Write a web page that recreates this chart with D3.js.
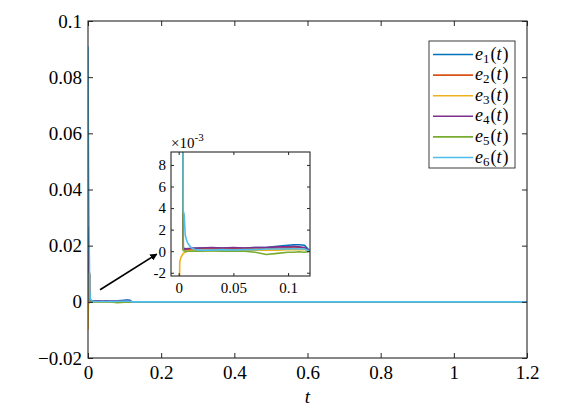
<!DOCTYPE html>
<html>
<head>
<meta charset="utf-8">
<script src="https://cdn.jsdelivr.net/npm/d3@7"></script>
<style>
  html, body { margin: 0; padding: 0; background: #fff; }
  svg { display: block; }
</style>
</head>
<body>
<svg id="chart" width="575" height="413" font-family="Liberation Serif"></svg>
<script>
// ---- data (values of e_i(t) in units of 1e-3) ----
const tValues = [0, 0.001, 0.002, 0.003, 0.004, 0.0042, 0.005, 0.006, 0.007, 0.008, 0.010, 0.012, 0.015, 0.02,
                 0.03, 0.04, 0.05, 0.06, 0.07, 0.08, 0.09, 0.1, 0.105, 0.11, 0.115, 0.12, 0.3, 0.6, 0.9, 1.2];
const e1 = [27, 20, 15, 11, 9.5, 0.3, 0.25, 0.25, 0.2, 0.2, 0.2, 0.25, 0.25, 0.3, 0.3, 0.3, 0.25, 0.3, 0.35, 0.35, 0.45, 0.55, 0.6, 0.6, 0.55, 0, 0, 0, 0, 0];
const e2 = [12, 11.5, 11, 10.5, 10, 0.15, 0.15, 0.15, 0.15, 0.15, 0.15, 0.2, 0.2, 0.25, 0.2, 0.25, 0.2, 0.25, 0.3, 0.25, 0.3, 0.3, 0.35, 0.35, 0.3, 0, 0, 0, 0, 0];
const e3 = [-10, -1.0, -0.6, -0.4, -0.25, -0.2, -0.15, -0.1, -0.05, 0, 0.05, 0.05, 0.05, 0.05, 0.05, 0.05, 0.05, 0.05, 0.1, 0.1, 0.1, 0.15, 0.15, 0.15, 0.15, 0, 0, 0, 0, 0];
const e4 = [18, 15, 13, 11, 10, 0.2, 0.2, 0.2, 0.2, 0.25, 0.25, 0.3, 0.3, 0.3, 0.35, 0.3, 0.35, 0.3, 0.35, 0.35, 0.4, 0.4, 0.45, 0.4, 0.35, 0, 0, 0, 0, 0];
const e5 = [10, 10, 9.8, 9.6, 9.5, 0.05, 0.05, 0, 0, 0, 0, 0, 0, 0, 0.05, 0, 0, 0, -0.1, -0.3, -0.2, -0.1, -0.1, -0.05, -0.1, 0, 0, 0, 0, 0];
const e6 = [91, 60, 40, 25, 12, 3.7, 3.4, 1.5, 1.1, 0.8, 0.5, 0.3, 0.15, 0.1, 0.1, 0.15, 0.1, 0.15, 0.15, 0.2, 0.2, 0.2, 0.25, 0.2, 0.2, 0, 0, 0, 0, 0];
const seriesNames = ["1", "2", "3", "4", "5", "6"];
const seriesValues = [e1, e2, e3, e4, e5, e6];
const colors = ["#0072BD", "#D95319", "#EDB120", "#7E2F8E", "#77AC30", "#4DBEEE"];

const mainXTicks = [0, 0.2, 0.4, 0.6, 0.8, 1, 1.2];
const mainXLabels = ["0", "0.2", "0.4", "0.6", "0.8", "1", "1.2"];
const mainYTicks = [-20, 0, 20, 40, 60, 80, 100];
const mainYLabels = ["\u22120.02", "0", "0.02", "0.04", "0.06", "0.08", "0.1"];
const insetXTicks = [0, 0.05, 0.1];
const insetXLabels = ["0", "0.05", "0.1"];
const insetYTicks = [-2, 0, 2, 4, 6, 8];
const insetYLabels = ["-2", "0", "2", "4", "6", "8"];

const arrowTail = [0.033, 4.3];
const arrowHead = [0.188, 17.0];

// ---- drawing ----
const FONT = "Liberation Serif";
const svg = d3.select("#chart");
svg.append("rect").attr("width", 575).attr("height", 413).attr("fill", "#fff");

const M = { left: 88, right: 527, top: 21, bottom: 358 };
const x = d3.scaleLinear().domain([0, 1.2]).range([M.left, M.right]);
const y = d3.scaleLinear().domain([-20, 100]).range([M.bottom, M.top]);

const I = { left: 171, right: 310, top: 152, bottom: 276 };
const xi = d3.scaleLinear().domain([-0.007, 0.12]).range([I.left, I.right]);
const yi = d3.scaleLinear().domain([-2.3, 9.2]).range([I.bottom, I.top]);

const defs = svg.append("defs");
defs.append("clipPath").attr("id", "clipMain").append("rect")
  .attr("x", M.left).attr("y", M.top).attr("width", M.right - M.left).attr("height", M.bottom - M.top);
defs.append("clipPath").attr("id", "clipInset").append("rect")
  .attr("x", I.left).attr("y", I.top).attr("width", I.right - I.left).attr("height", I.bottom - I.top);
defs.append("marker").attr("id", "arrowhead").attr("viewBox", "0 0 10 10")
  .attr("refX", 9).attr("refY", 5).attr("markerWidth", 4.5).attr("markerHeight", 4.5)
  .attr("markerUnits", "strokeWidth").attr("orient", "auto")
  .append("path").attr("d", "M0,0 L10,5 L0,10 z").attr("fill", "#000");

const axisColor = "#262626";

function drawAxes(g, xs, ys, box, xt, xl, yt, yl, tickLen, fontSize, xGap, yGap) {
  const ax = g.append("g").attr("transform", `translate(0,${box.bottom})`)
    .call(d3.axisBottom(xs).tickValues(xt).tickFormat((d, i) => xl[i]).tickSizeInner(-tickLen).tickSizeOuter(0).tickPadding(xGap));
  const axt = g.append("g").attr("transform", `translate(0,${box.top})`)
    .call(d3.axisTop(xs).tickValues(xt).tickFormat("").tickSizeInner(-tickLen).tickSizeOuter(0));
  const ay = g.append("g").attr("transform", `translate(${box.left},0)`)
    .call(d3.axisLeft(ys).tickValues(yt).tickFormat((d, i) => yl[i]).tickSizeInner(-tickLen).tickSizeOuter(0).tickPadding(yGap));
  const ayr = g.append("g").attr("transform", `translate(${box.right},0)`)
    .call(d3.axisRight(ys).tickValues(yt).tickFormat("").tickSizeInner(-tickLen).tickSizeOuter(0));
  [ax, axt, ay, ayr].forEach(a => {
    a.attr("font-family", FONT).attr("font-size", fontSize);
    a.select(".domain").remove();
    a.selectAll(".tick line").attr("stroke", axisColor).attr("stroke-width", 1);
    a.selectAll(".tick text").attr("font-family", FONT).attr("font-size", fontSize).attr("fill", "#000");
  });
  g.append("rect").attr("x", box.left).attr("y", box.top)
    .attr("width", box.right - box.left).attr("height", box.bottom - box.top)
    .attr("fill", "none").attr("stroke", axisColor).attr("stroke-width", 1.1);
}

// main lines
const gMain = svg.append("g");
const gLines = gMain.append("g").attr("clip-path", "url(#clipMain)");
seriesValues.forEach((vals, k) => {
  const pts = tValues.map((t, i) => ({ t, v: vals[i] }));
  gLines.append("path").datum(pts)
    .attr("fill", "none").attr("stroke", colors[k]).attr("stroke-width", 1.6).attr("stroke-linejoin", "round")
    .attr("d", d3.line().x(d => x(d.t)).y(d => y(d.v)));
});
drawAxes(gMain, x, y, M, mainXTicks, mainXLabels, mainYTicks, mainYLabels, 5, 19, 8, 6);

// x label
svg.append("text").attr("x", (M.left + M.right) / 2).attr("y", 403)
  .attr("text-anchor", "middle").attr("font-family", FONT).attr("font-size", 19).attr("font-style", "italic").text("t");

// arrow
svg.append("line")
  .attr("x1", x(arrowTail[0])).attr("y1", y(arrowTail[1]))
  .attr("x2", x(arrowHead[0])).attr("y2", y(arrowHead[1]))
  .attr("stroke", "#000").attr("stroke-width", 1.6).attr("marker-end", "url(#arrowhead)");

// inset
const gInset = svg.append("g");
gInset.append("rect").attr("x", I.left).attr("y", I.top)
  .attr("width", I.right - I.left).attr("height", I.bottom - I.top).attr("fill", "#fff");
const gIL = gInset.append("g").attr("clip-path", "url(#clipInset)");
seriesValues.forEach((vals, k) => {
  const pts = tValues.map((t, i) => ({ t, v: vals[i] })).filter(d => d.t <= 0.3);
  gIL.append("path").datum(pts)
    .attr("fill", "none").attr("stroke", colors[k]).attr("stroke-width", 1.6).attr("stroke-linejoin", "round")
    .attr("d", d3.line().x(d => xi(d.t)).y(d => yi(d.v)));
});
drawAxes(gInset, xi, yi, I, insetXTicks, insetXLabels, insetYTicks, insetYLabels, 3, 15, 6, 5);

// exponent label
const expT = gInset.append("text").attr("x", I.left).attr("y", 148).attr("font-family", FONT).attr("font-size", 15);
expT.append("tspan").text("\u00d710");
expT.append("tspan").attr("dy", -7).attr("font-size", 11).text("-3");

// legend
const L = { x: 429, y: 41, w: 86, h: 127 };
const gLeg = svg.append("g");
gLeg.append("rect").attr("x", L.x).attr("y", L.y).attr("width", L.w).attr("height", L.h)
  .attr("fill", "#fff").attr("stroke", axisColor).attr("stroke-width", 0.9);
seriesNames.forEach((nm, k) => {
  const cy = 54.5 + k * 20.6;
  gLeg.append("line").attr("x1", 433).attr("x2", 473).attr("y1", cy).attr("y2", cy)
    .attr("stroke", colors[k]).attr("stroke-width", 1.6);
  const tx = gLeg.append("text").attr("x", 475).attr("y", cy + 5).attr("font-family", FONT).attr("font-size", 18);
  tx.append("tspan").attr("font-style", "italic").text("e");
  tx.append("tspan").attr("dy", 3).attr("font-size", 13).text(nm);
  tx.append("tspan").attr("dy", -3).attr("dx", 1).text("(");
  tx.append("tspan").attr("font-style", "italic").text("t");
  tx.append("tspan").attr("dx", 1).text(")");
});
</script>
</body>
</html>
